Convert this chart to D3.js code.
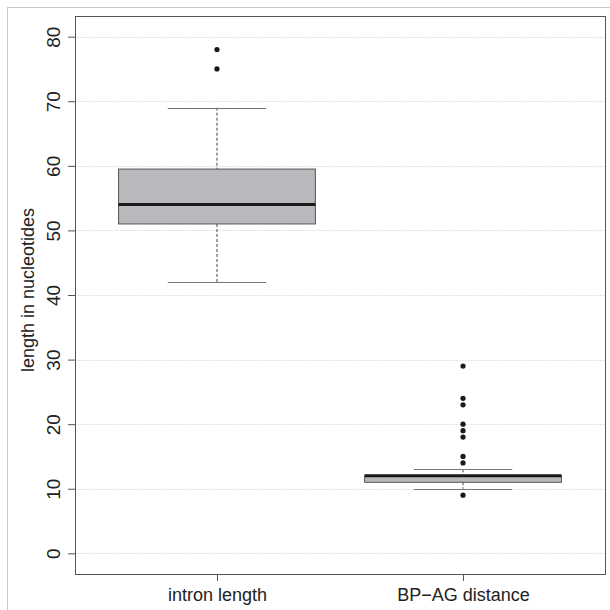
<!DOCTYPE html>
<html>
<head>
<meta charset="utf-8">
<script src="https://cdn.jsdelivr.net/npm/d3@7"></script>
<style>
  body { margin: 0; background: #fff; }
  text { font-family: "Liberation Sans", Arial, sans-serif; fill: #222; }
</style>
</head>
<body>
<svg id="chart" width="610" height="610"></svg>
<script>
// box statistics
const groups = ['intron length', 'BP\u2212AG distance'];
const lowerWhisker = [42, 10];
const q1 = [51, 11];
const median = [54, 12];
const q3 = [59.5, 12];
const upperWhisker = [69, 13];
const outliers = [
  [75, 78],
  [9, 14, 15, 18, 19, 20, 23, 24, 29]
];
const yTicks = [0, 10, 20, 30, 40, 50, 60, 70, 80];

const svg = d3.select('#chart');
const plot = { left: 75, top: 16, right: 605, bottom: 574 };

// outer frame
svg.append('rect')
  .attr('x', 7.5).attr('y', 7.5)
  .attr('width', 640).attr('height', 640)
  .attr('fill', 'none').attr('stroke', '#c8c8c8');

const y = d3.scaleLinear().domain([-3.2, 83.2]).range([plot.bottom, plot.top]);
const x = d3.scaleLinear().domain([0.423, 2.577]).range([plot.left, plot.right]);
const boxWex = 0.8;

// dotted grid
svg.append('g')
  .selectAll('line')
  .data(yTicks)
  .join('line')
  .attr('x1', plot.left).attr('x2', plot.right)
  .attr('y1', d => Math.round(y(d)) + 0.5).attr('y2', d => Math.round(y(d)) + 0.5)
  .attr('stroke', '#d9d9d9')
  .attr('stroke-dasharray', '1.5,1.5');

const boxes = svg.append('g')
  .selectAll('g')
  .data(groups)
  .join('g');

// whiskers
boxes.append('line')
  .attr('x1', (d, i) => x(i + 1)).attr('x2', (d, i) => x(i + 1))
  .attr('y1', (d, i) => y(upperWhisker[i])).attr('y2', (d, i) => y(q3[i]))
  .attr('stroke', '#444').attr('stroke-dasharray', '3,2');
boxes.append('line')
  .attr('x1', (d, i) => x(i + 1)).attr('x2', (d, i) => x(i + 1))
  .attr('y1', (d, i) => y(q1[i])).attr('y2', (d, i) => y(lowerWhisker[i]))
  .attr('stroke', '#444').attr('stroke-dasharray', '3,2');

// caps
[upperWhisker, lowerWhisker].forEach(arr => {
  boxes.append('line')
    .attr('x1', (d, i) => x(i + 1 - boxWex / 4)).attr('x2', (d, i) => x(i + 1 + boxWex / 4))
    .attr('y1', (d, i) => Math.round(y(arr[i])) + 0.5).attr('y2', (d, i) => Math.round(y(arr[i])) + 0.5)
    .attr('stroke', '#777');
});

// box
boxes.append('rect')
  .attr('x', (d, i) => x(i + 1 - boxWex / 2))
  .attr('width', x(1 + boxWex / 2) - x(1 - boxWex / 2))
  .attr('y', (d, i) => y(q3[i]))
  .attr('height', (d, i) => y(q1[i]) - y(q3[i]))
  .attr('fill', '#b8b9bc').attr('stroke', '#555');

// median
boxes.append('line')
  .attr('x1', (d, i) => x(i + 1 - boxWex / 2)).attr('x2', (d, i) => x(i + 1 + boxWex / 2))
  .attr('y1', (d, i) => y(median[i])).attr('y2', (d, i) => y(median[i]))
  .attr('stroke', '#1a1a1a').attr('stroke-width', 3);

// outliers
boxes.selectAll('circle')
  .data((d, i) => outliers[i].map(v => ({ v, i })))
  .join('circle')
  .attr('cx', d => x(d.i + 1))
  .attr('cy', d => y(d.v))
  .attr('r', 2.6)
  .attr('fill', '#1a1a1a');

// plot frame
svg.append('rect')
  .attr('x', plot.left + 0.5).attr('y', plot.top + 0.5)
  .attr('width', plot.right - plot.left).attr('height', plot.bottom - plot.top)
  .attr('fill', 'none').attr('stroke', '#555');

// y axis
const yAxis = svg.append('g')
  .attr('transform', `translate(${plot.left},0)`)
  .call(d3.axisLeft(y).tickValues(yTicks).tickSize(7).tickPadding(0).tickFormat(d3.format('d')));
yAxis.select('.domain').remove();
yAxis.selectAll('.tick line').attr('stroke', '#555');
yAxis.selectAll('.tick text')
  .attr('transform', 'translate(-22,0) rotate(-90)')
  .attr('x', 0).attr('dy', '0.35em')
  .attr('text-anchor', 'middle')
  .style('font-size', '19px')
  .style('fill', '#222')
  .style('font-family', '"Liberation Sans", Arial, sans-serif');

// x axis
const xAxis = svg.append('g')
  .attr('transform', `translate(0,${plot.bottom})`)
  .call(d3.axisBottom(x).tickValues([1, 2]).tickSize(7).tickPadding(7).tickFormat((d, i) => groups[i]));
xAxis.select('.domain').remove();
xAxis.selectAll('.tick line').attr('stroke', '#555');
xAxis.selectAll('.tick text')
  .style('font-size', '18px')
  .style('fill', '#222')
  .style('font-family', '"Liberation Sans", Arial, sans-serif');

// y title
svg.append('text')
  .attr('transform', `translate(34,${(plot.top + plot.bottom) / 2 - 5}) rotate(-90)`)
  .attr('text-anchor', 'middle')
  .style('font-size', '18px')
  .text('length in nucleotides');
</script>
</body>
</html>
